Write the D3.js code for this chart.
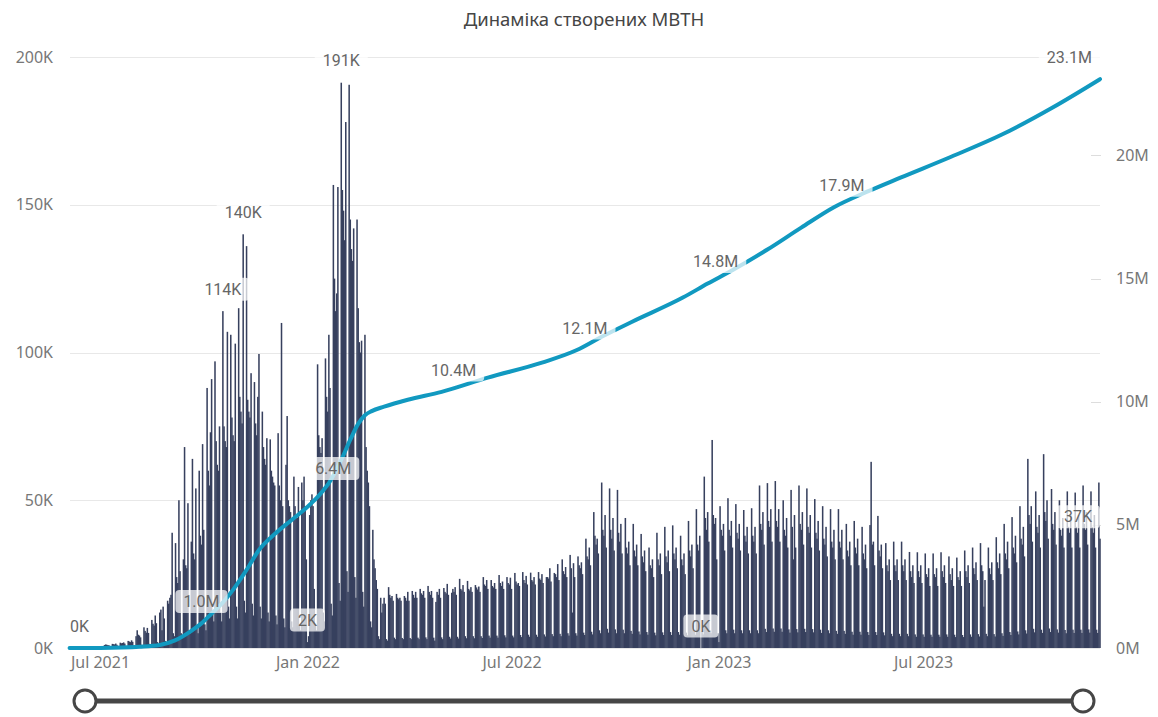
<!DOCTYPE html>
<html>
<head>
<meta charset="utf-8">
<script src="https://cdn.jsdelivr.net/npm/d3@7"></script>
<style>
  body { margin: 0; background: #ffffff; }
  svg { display: block; }
</style>
</head>
<body>
<svg id="chart" width="1158" height="717"></svg>
<script>
// ---- data ---------------------------------------------------------------
const chartTitle = "Динаміка створених МВТН";

// daily count of created certificates, thousands; first value is 2021-06-04,
// then one row per week (Mon..Sun)
const firstDay = "2021-06-04";
const dailyK = [
  0, 0, 0,
  0, 0, 0, 0, 0, 0, 0,
  0, 0, 0, 0, 0, 0, 0,
  0, 0, 0, 0, 0, 0, 0,
  0.3, 0.4, 0.3, 0.4, 0.3, 0.1, 0.1,
  1.0, 1.2, 1.1, 1.0, 0.9, 0.3, 0.2,
  1.4, 1.3, 1.2, 1.5, 1.1, 0.4, 0.3,
  1.8, 1.6, 1.7, 1.9, 1.5, 0.5, 0.4,
  2.4, 2.2, 2.0, 2.6, 2.1, 0.7, 0.5,
  4.0, 6.0, 4.5, 4.2, 3.6, 1.1, 0.8,
  7.0, 5.8, 5.2, 6.8, 5.1, 1.4, 1.0,
  9.5, 8.2, 7.6, 11, 8.4, 2.0, 1.4,
  12, 13, 6, 14, 10, 2.4, 1.8,
  16, 15, 17, 18, 39, 5, 4,
  35.5, 24, 22, 50, 26, 5, 4,
  30, 68, 28, 27, 49, 6, 5,
  36, 64, 32, 30, 54, 7, 5,
  60, 38, 35, 69, 40, 8, 6,
  88, 60, 55, 73, 91, 12, 9,
  97, 70, 62, 60, 75, 12, 9,
  114, 75, 70, 68, 107, 14, 10,
  106, 78, 72, 70, 103, 14, 10,
  115, 85, 80, 76, 140, 16, 12,
  136, 84, 80, 78, 93, 15, 11,
  90, 76, 72, 85, 99.5, 14, 10,
  80, 68, 64, 62, 71, 12, 9,
  70.6, 60, 58, 56, 55, 11, 8,
  72.7, 55, 50, 110, 48, 10, 7,
  62, 78.5, 50, 48, 46, 9, 7,
  58, 48, 45, 44, 54.5, 8, 6,
  56, 50, 58, 48, 30, 2, 4,
  45, 50, 52, 48, 20, 8, 6,
  96, 72, 68, 66, 71, 12, 9,
  98, 85, 80, 106, 88, 15, 11,
  156.7, 125, 114, 120, 156, 22, 16,
  191.3, 155, 148, 138, 178, 26, 19,
  190.6, 145, 135, 131, 142, 24, 17,
  145, 115, 103.5, 100, 104, 19, 14,
  106, 68, 60, 56, 48, 9, 7,
  40, 30, 27, 23, 20, 4, 3,
  17, 12, 15, 17, 15, 3, 2.5,
  20.6, 18, 17, 17.6, 16, 3.5, 3,
  18.3, 17, 16.5, 17, 16, 3.4, 3,
  17.6, 17, 16, 19, 16, 3.4, 3,
  19.3, 18, 17, 19, 17, 3.5, 3,
  20, 18.5, 18, 19.3, 17, 3.6, 3,
  21, 19, 18, 19.3, 17, 3.5, 2.5,
  15.6, 19, 18, 20, 17, 3.6, 3,
  20.3, 19, 18.5, 21.7, 18, 3.8, 3.2,
  18.7, 20, 19, 20.6, 18, 3.8, 3.2,
  23.4, 20, 19.5, 21.3, 19, 4, 3.3,
  22.7, 20, 19.5, 20.6, 19, 4, 3.3,
  21.3, 20.5, 19.8, 20.8, 19, 4, 3.4,
  24, 21.5, 21, 23, 20, 4.2, 3.5,
  23, 21, 20.5, 22, 20, 4.2, 3.5,
  24.7, 22, 21, 22.5, 20, 4.3, 3.6,
  24, 22, 21.5, 23.8, 20, 4.2, 3.6,
  25.4, 22.5, 21.5, 22, 21, 4.4, 3.7,
  25.7, 23, 22, 24.4, 21.5, 4.5, 3.8,
  25.5, 23, 22.5, 24, 21.5, 4.5, 3.8,
  25.7, 23.5, 23, 25, 22, 4.6, 3.9,
  24, 24, 23.5, 27, 22.5, 4.7, 4,
  25.4, 25, 24, 28.4, 23, 4.8, 4,
  30, 26, 25, 27.4, 24, 5, 4.2,
  31.5, 27, 12, 28.7, 24, 5, 4.2,
  31, 28, 27, 29, 25, 5.2, 4.4,
  37, 31, 30, 34, 28, 5.5, 4.6,
  46, 38, 35, 37, 32, 6, 5,
  56, 40, 38, 45, 34, 6.5, 5.2,
  54, 40, 37, 44, 33, 6.3, 5,
  53.5, 39, 36, 42, 32, 6.2, 5,
  44, 34, 32, 36, 28, 5.8, 4.8,
  42, 33, 31, 35, 28, 5.6, 4.6,
  38.6, 31, 29, 33, 26, 5.4, 4.5,
  34, 28, 27, 30, 24, 5.2, 4.3,
  39, 30, 28, 32, 25, 5.3, 4.4,
  41, 31, 29, 33, 26, 5.4, 4.4,
  41.5, 32, 30, 34, 27, 5.4, 4.5,
  38, 30, 28, 32, 25, 5.2, 4.3,
  43, 33, 31, 35, 27, 5.5, 4.5,
  47, 35, 33, 38, 0, 5.6, 4.6,
  58, 44, 40, 46, 36, 6, 5,
  70.4, 45, 42, 44, 30, 5, 2,
  48, 40, 38, 42, 33, 6, 5,
  50.7, 40, 38, 43, 34, 6.2, 5,
  48.7, 39, 37, 42, 33, 6, 5,
  46.7, 38, 36, 41, 32, 6, 5,
  47.3, 38, 36, 41, 32, 6, 5,
  55, 42, 40, 46, 35, 6.5, 5.4,
  55.8, 43, 41, 47, 36, 6.6, 5.5,
  56.5, 43, 41, 47, 36, 6.6, 5.5,
  50, 40, 38, 44, 34, 6.3, 5.2,
  53.5, 41, 30, 45, 34, 6.4, 5.3,
  55, 42, 40, 46, 35, 6.5, 5.4,
  54, 41, 39, 45, 34, 6.4, 5.3,
  50.4, 39, 37, 43, 33, 6.2, 5.1,
  48, 37, 35, 41, 31, 6, 5,
  47, 36, 34, 40, 30, 5.8, 4.8,
  47, 36, 34, 40, 30, 5.8, 4.8,
  42, 33, 31, 36, 28, 5.5, 4.5,
  43, 34, 32, 37, 28, 5.5, 4.5,
  41, 32, 30, 35, 27, 5.4, 4.4,
  41.6, 63, 35, 36, 28, 5.4, 4.4,
  44.7, 33, 31, 35, 27, 5.3, 4.3,
  35.5, 28, 26, 30, 23, 4.8, 4,
  36, 28, 26, 30, 23, 4.8, 4,
  36, 28, 26, 30, 23, 4.8, 4,
  32.5, 26, 24, 28, 22, 4.6, 3.8,
  32.4, 26, 24, 28, 22, 4.6, 3.8,
  32, 25, 24, 27, 21, 4.5, 3.8,
  32, 25, 24, 27, 21, 4.5, 3.8,
  32.4, 26, 24, 28, 22, 4.6, 3.8,
  31, 25, 23, 27, 21, 4.5, 3.7,
  30.6, 24, 23, 26, 21, 4.4, 3.7,
  33, 26, 24, 28, 22, 4.6, 3.8,
  34, 27, 25, 29, 23, 4.7, 3.9,
  35.5, 28, 26, 14, 23, 4.8, 4,
  34, 27, 25, 29, 23, 4.7, 3.9,
  37.5, 29, 27, 32, 25, 5, 4.1,
  42, 32, 30, 36, 27, 5.4, 4.4,
  44.3, 34, 32, 38, 29, 5.6, 4.6,
  48, 37, 35, 41, 31, 6, 4.9,
  64, 45, 42, 48, 36, 6.5, 5.3,
  53, 41, 39, 45, 34, 6.2, 5.1,
  65.6, 46, 43, 50, 37, 6.6, 5.4,
  53.8, 42, 40, 46, 35, 6.3, 5.2,
  50, 40, 38, 44, 34, 6.1, 5,
  53, 41, 39, 45, 34, 6.2, 5.1,
  52.6, 41, 39, 45, 34, 6.2, 5.1,
  55, 42, 40, 46, 35, 6.3, 5.2,
  53, 41, 39, 45, 34, 6.2, 5.1,
  56, 37
];

// running total of created certificates, millions
const cumDates = [
  "2021-06-04", "2021-07-01", "2021-07-20", "2021-08-05", "2021-08-23",
  "2021-09-05", "2021-09-21", "2021-09-29", "2021-10-08", "2021-10-17",
  "2021-10-27", "2021-11-08", "2021-11-19", "2021-12-04", "2021-12-18",
  "2022-01-05", "2022-01-15", "2022-01-20", "2022-01-31", "2022-02-08",
  "2022-02-15", "2022-02-21", "2022-02-27", "2022-03-10", "2022-03-31",
  "2022-04-30", "2022-06-10", "2022-07-28", "2022-08-28", "2022-09-19",
  "2022-10-16", "2022-11-30", "2022-12-22", "2023-01-14", "2023-02-13",
  "2023-03-15", "2023-04-13", "2023-05-13", "2023-06-11", "2023-07-26",
  "2023-09-09", "2023-10-24", "2023-12-05"
];
const cumM = [
  0, 0.005, 0.02, 0.05, 0.12,
  0.3, 0.73, 1.0, 1.4, 1.8,
  2.36, 3.17, 3.98, 4.67, 5.2,
  5.9, 6.4, 6.7, 7.64, 8.46,
  9.1, 9.45, 9.62, 9.8, 10.08,
  10.4, 10.98, 11.59, 12.1, 12.64,
  13.25, 14.23, 14.8, 15.37, 16.18,
  17.07, 17.9, 18.54, 19.1, 19.95,
  20.85, 21.95, 23.1
];

// days whose values carry a data label
const barLabelDays = ["2021-06-04", "2021-10-18", "2021-11-05", "2022-01-01", "2022-01-31", "2022-12-16", "2023-12-05"];
const lineLabelDays = ["2021-09-29", "2022-01-15", "2022-04-30", "2022-08-28", "2022-12-22", "2023-04-13", "2023-12-05"];

// axes
const leftTicks = [0, 50, 100, 150, 200];
const leftTickLabels = ["0K", "50K", "100K", "150K", "200K"];
const rightTicks = [0, 5, 10, 15, 20];
const rightTickLabels = ["0M", "5M", "10M", "15M", "20M"];
const monthTicks = ["2021-07-01", "2022-01-01", "2022-07-01", "2023-01-01", "2023-07-01"];
const monthTickLabels = ["Jul 2021", "Jan 2022", "Jul 2022", "Jan 2023", "Jul 2023"];

// ---- layout -------------------------------------------------------------
const W = 1158, H = 717;
const plot = { left: 70, right: 1100, top: 57, bottom: 648 };
const colors = {
  bar: "#37405e", line: "#1199c0", grid: "#e8e8e8",
  axisText: "#777777", labelText: "#666666", title: "#454545", slider: "#464646"
};
const uiFont = "'Noto Sans', 'Open Sans', sans-serif";
const labelFont = "Roboto, 'Noto Sans', sans-serif";
// horizontal nudge of the line labels (px), in label order
const lineLabelNudge = [0, 10, 12, 8, 8, 8, 0];

const parse = d3.utcParse("%Y-%m-%d");
const t0 = parse(firstDay);
const days = dailyK.map((v, i) => ({ date: d3.utcDay.offset(t0, i), v }));
const cum = cumDates.map((d, i) => ({ date: parse(d), v: cumM[i] }));

const x = d3.scaleUtc()
  .domain([parse("2021-07-01"), parse("2023-07-01")])
  .range([100, 923]);
const yL = d3.scaleLinear().domain([0, 200]).range([plot.bottom, plot.top]);
const yR = d3.scaleLinear().domain([0, 24]).range([plot.bottom, plot.top]);
const step = x(d3.utcDay.offset(t0, 1)) - x(t0);

const svg = d3.select("#chart");
svg.append("rect").attr("width", W).attr("height", H).attr("fill", "#ffffff");

// title
svg.append("text")
  .attr("x", 584).attr("y", 26)
  .attr("text-anchor", "middle")
  .attr("font-family", uiFont).attr("font-size", 18.5)
  .attr("fill", colors.title)
  .text(chartTitle);

// horizontal grid on the left scale
svg.append("g").selectAll("line").data(leftTicks).join("line")
  .attr("x1", plot.left).attr("x2", plot.right)
  .attr("y1", d => Math.round(yL(d)) + 0.5).attr("y2", d => Math.round(yL(d)) + 0.5)
  .attr("stroke", colors.grid).attr("stroke-width", 1);

// left axis labels
svg.append("g").selectAll("text").data(leftTicks).join("text")
  .attr("x", 53).attr("y", d => yL(d))
  .attr("dy", "0.35em").attr("text-anchor", "end")
  .attr("font-family", uiFont).attr("font-size", 16)
  .attr("fill", colors.axisText)
  .text((d, i) => leftTickLabels[i]);

// right axis: small ticks and labels
const rAxis = svg.append("g");
rAxis.selectAll("line").data(rightTicks.slice(1)).join("line")
  .attr("x1", 1091).attr("x2", 1101)
  .attr("y1", d => Math.round(yR(d)) + 0.5).attr("y2", d => Math.round(yR(d)) + 0.5)
  .attr("stroke", "#dddddd");
rAxis.selectAll("text").data(rightTicks).join("text")
  .attr("x", 1116).attr("y", d => yR(d))
  .attr("dy", "0.35em").attr("text-anchor", "start")
  .attr("font-family", uiFont).attr("font-size", 16)
  .attr("fill", colors.axisText)
  .text((d, i) => rightTickLabels[i]);

// bottom time axis
const xAxis = d3.axisBottom(x)
  .tickValues(monthTicks.map(parse))
  .tickFormat((d, i) => monthTickLabels[i])
  .tickSize(0).tickPadding(9);
const gx = svg.append("g").attr("transform", `translate(0,${plot.bottom})`).call(xAxis);
gx.select(".domain").remove();
gx.selectAll("text")
  .attr("font-family", uiFont).attr("font-size", 16)
  .attr("fill", colors.axisText);

// daily columns, one per day, slightly overlapping so the body reads solid
const bw = step + 0.4;
svg.append("g").selectAll("rect").data(days).join("rect")
  .attr("x", d => x(d.date) - bw / 2)
  .attr("width", bw)
  .attr("y", d => yL(d.v))
  .attr("height", d => yL(0) - yL(d.v))
  .attr("fill", colors.bar);

// cumulative line
const line = d3.line()
  .x(d => x(d.date)).y(d => yR(d.v))
  .curve(d3.curveMonotoneX);
svg.append("path").datum(cum)
  .attr("d", line)
  .attr("fill", "none")
  .attr("stroke", colors.line)
  .attr("stroke-width", 4)
  .attr("stroke-linejoin", "round")
  .attr("stroke-linecap", "round");

// data labels with translucent rounded background
const labelLayer = svg.append("g");
function addLabel(cx, cy, text, shift) {
  const g = labelLayer.append("g");
  const t = g.append("text")
    .attr("text-anchor", "middle")
    .attr("font-family", labelFont).attr("font-size", 16)
    .attr("fill", colors.labelText)
    .text(text);
  const w = t.node().getComputedTextLength() + 16, h = 23;
  let c = cx + (shift || 0);
  c = Math.max(62 + w / 2, Math.min(1100 - w / 2, c));
  g.insert("rect", "text")
    .attr("x", c - w / 2).attr("y", cy - h / 2)
    .attr("width", w).attr("height", h)
    .attr("rx", 4)
    .attr("fill", "#ffffff").attr("fill-opacity", 0.72);
  t.attr("x", c).attr("y", cy).attr("dy", "0.35em");
}

const fmtK = v => `${Math.round(v)}K`;
const fmtM = v => `${v.toFixed(1)}M`;
barLabelDays.forEach(ds => {
  const d = days.find(e => +e.date === +parse(ds));
  addLabel(x(d.date), yL(d.v) - 22, fmtK(d.v), 0);
});
lineLabelDays.forEach((ds, i) => {
  const d = cum.find(e => +e.date === +parse(ds));
  addLabel(x(d.date), yR(d.v) - 22, fmtM(d.v), lineLabelNudge[i]);
});

// range slider under the chart
const slider = svg.append("g");
slider.append("line")
  .attr("x1", 85).attr("x2", 1083).attr("y1", 701).attr("y2", 701)
  .attr("stroke", colors.slider).attr("stroke-width", 5);
slider.selectAll("circle").data([85, 1083]).join("circle")
  .attr("cx", d => d).attr("cy", 701).attr("r", 11)
  .attr("fill", "#ffffff").attr("stroke", colors.slider).attr("stroke-width", 3);
</script>
</body>
</html>
